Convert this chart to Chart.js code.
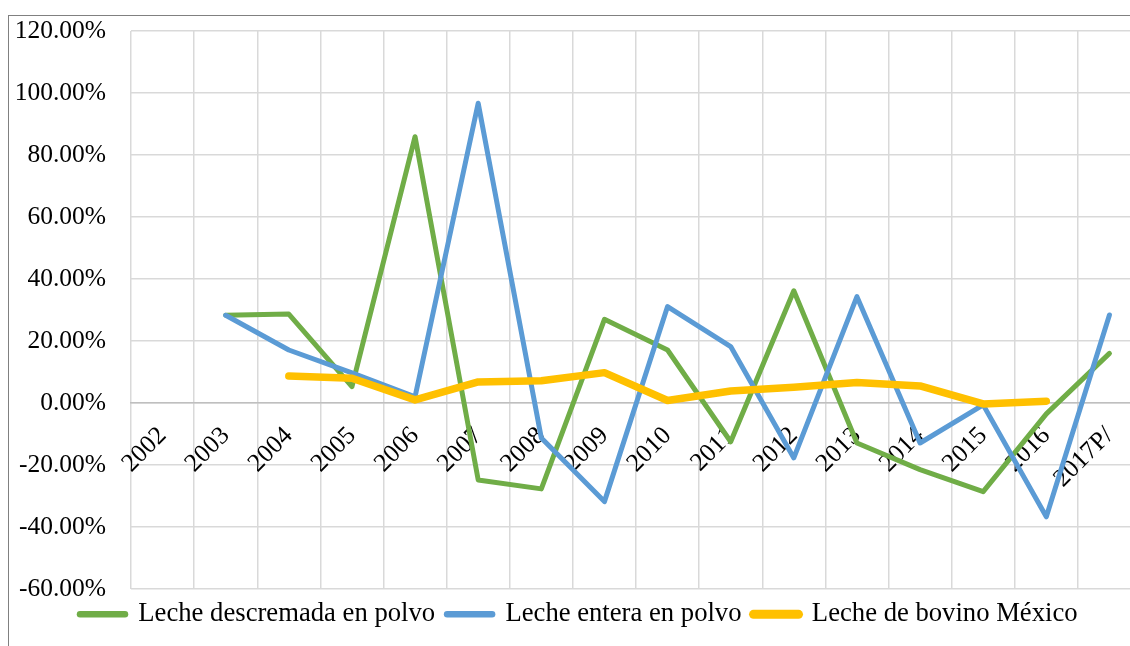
<!DOCTYPE html>
<html>
<head>
<meta charset="utf-8">
<script src="https://cdn.jsdelivr.net/npm/chart.js@4/dist/chart.umd.min.js"></script>
<style>
  html, body { margin: 0; padding: 0; width: 1130px; height: 646px; overflow: hidden; background: #fff; }
  #frame { position: absolute; left: 8px; top: 15px; width: 1300px; height: 800px;
           border-left: 1.5px solid #808080; border-top: 1.5px solid #808080; }
  #c { position: absolute; left: 0; top: 0; }
</style>
</head>
<body>
<div id="frame"></div>
<canvas id="c" width="1150" height="646"></canvas>
<script>
const categories = ['2002','2003','2004','2005','2006','2007','2008','2009','2010','2011','2012','2013','2014','2015','2016','2017P/'];
const seriesNames = ['Leche descremada en polvo', 'Leche entera en polvo', 'Leche de bovino México'];
const descremada = [null, 28.3, 28.7, 5.3, 85.9, -24.8, -27.7, 27.0, 17.1, -12.5, 36.2, -12.9, -21.5, -28.6, -3.5, 16.0];
const entera     = [null, 28.3, 17.1, 9.7, 2.0, 96.7, -11.3, -31.8, 31.1, 18.2, -17.7, 34.3, -12.9, -0.6, -36.7, 28.4];
const bovino     = [null, null, 8.7, 8.0, 1.0, 6.8, 7.2, 9.8, 0.8, 3.9, 5.1, 6.6, 5.5, -0.3, 0.6, null];
const yMin = -60, yMax = 120, yStep = 20;

const FAMILY = '"Liberation Serif", "Times New Roman", serif';
const TICK_SIZE = 25.5;
const LEGEND_SIZE = 26.67;
const fmt = (v) => v.toFixed(2) + '%';

// widest y tick label, so the mirrored labels can be right-aligned left of the plot
const mctx = document.createElement('canvas').getContext('2d');
mctx.font = TICK_SIZE + 'px ' + FAMILY;
let widest = 0;
for (let v = yMin; v <= yMax; v += yStep) widest = Math.max(widest, mctx.measureText(fmt(v)).width);
const labelGap = 25;

function ds(label, data, color, width, order) {
  return {
    label, data, borderColor: color, backgroundColor: color, borderWidth: width,
    pointRadius: 0, pointHoverRadius: 0, tension: 0, spanGaps: false,
    borderCapStyle: 'round', borderJoinStyle: 'round', order, fill: false
  };
}

new Chart(document.getElementById('c'), {
  type: 'line',
  data: {
    labels: categories,
    datasets: [
      ds(seriesNames[0], descremada, '#70AD47', 5, 3),
      ds(seriesNames[1], entera, '#5B9BD5', 5, 2),
      ds(seriesNames[2], bovino, '#FFC000', 7.5, 1)
    ]
  },
  options: {
    responsive: false,
    animation: false,
    devicePixelRatio: 1,
    layout: { padding: { left: 68, right: 9, top: 31, bottom: 8.3 } },
    plugins: {
      tooltip: { enabled: false },
      legend: {
        position: 'bottom',
        align: 'start',
        labels: {
          usePointStyle: true,
          pointStyle: 'line',
          pointStyleWidth: 45,
          padding: 12,
          color: '#000',
          font: { family: FAMILY, size: LEGEND_SIZE },
          sort: (a, b) => a.datasetIndex - b.datasetIndex,
          generateLabels: (chart) => Chart.defaults.plugins.legend.labels.generateLabels(chart)
            .map(it => Object.assign(it, { lineWidth: it.lineWidth + 1.5, lineCap: 'round' }))
        }
      }
    },
    scales: {
      x: {
        type: 'category',
        position: { y: 0 },
        offset: true,
        grid: { offset: true, color: '#D9D9D9', lineWidth: 1.5, drawTicks: false },
        border: { display: true, color: '#BFBFBF', width: 1.5 },
        ticks: {
          autoSkip: false, minRotation: 45, maxRotation: 45, padding: 18,
          color: '#000', font: { family: FAMILY, size: TICK_SIZE }
        },
        afterFit: (s) => { s.height = 0; }
      },
      y: {
        min: yMin, max: yMax,
        grid: { color: '#D9D9D9', lineWidth: 1.5, drawTicks: false },
        border: { display: false },
        ticks: {
          stepSize: yStep, mirror: true, crossAlign: 'far',
          padding: -(labelGap + widest), color: '#000',
          font: { family: FAMILY, size: TICK_SIZE },
          callback: fmt
        },
        afterFit: (s) => { s.width = 63; }
      }
    }
  }
});
</script>
</body>
</html>
